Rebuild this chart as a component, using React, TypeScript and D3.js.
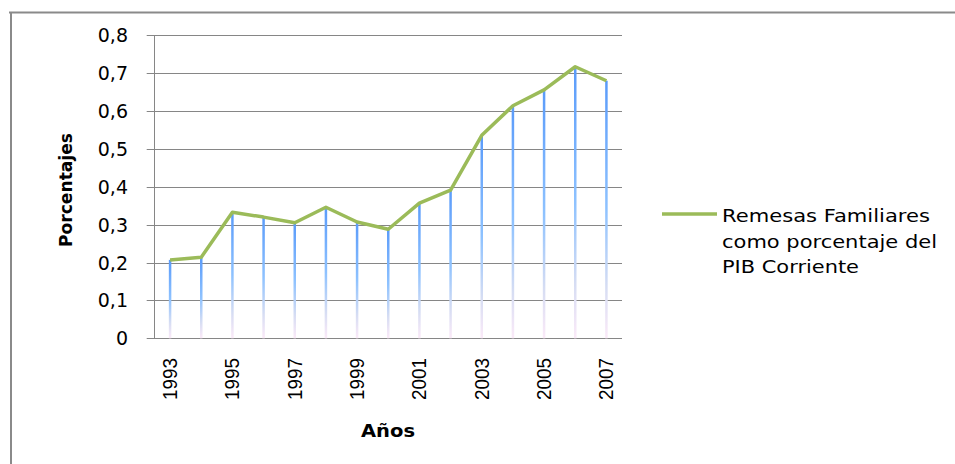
import React from "react";
import * as d3 from "d3";

const years = [1993, 1994, 1995, 1996, 1997, 1998, 1999, 2000, 2001, 2002, 2003, 2004, 2005, 2006, 2007];
const remesas = [0.207, 0.214, 0.333, 0.32, 0.305, 0.346, 0.307, 0.288, 0.357, 0.391, 0.536, 0.614, 0.656, 0.717, 0.68];
const yTicks = [0, 0.1, 0.2, 0.3, 0.4, 0.5, 0.6, 0.7, 0.8];
const xLabelYears = [1993, 1995, 1997, 1999, 2001, 2003, 2005, 2007];
const legendLines = ["Remesas Familiares", "como porcentaje del", "PIB Corriente"];
const legendLengths = [208, 215, 137];

const W = 955;
const H = 464;
const left = 154.5;
const right = 622;
const top = 35.3;
const bottom = 338.3;

export default function App() {
  const x = d3.scaleBand<number>().domain(years).range([left, right]).padding(0);
  const y = d3.scaleLinear().domain([0, 0.8]).range([bottom, top]);
  const cx = (yr: number) => (x(yr) as number) + x.bandwidth() / 2;
  const line = d3
    .line<number>()
    .x((_, i) => cx(years[i]))
    .y((d) => y(d));
  const fmt = (v: number) => (v === 0 ? "0" : d3.format(".1f")(v).replace(".", ","));

  return (
    <svg
      width={W}
      height={H}
      style={{ position: "absolute", left: 0, top: 0, background: "#fff" }}
      xmlns="http://www.w3.org/2000/svg"
    >
      <defs>
        <linearGradient id="drop" x1="0" y1="0" x2="0" y2="1">
          <stop offset="0" stopColor="#5A9BFA" />
          <stop offset="0.5" stopColor="#8EC2FF" />
          <stop offset="0.8" stopColor="#D6DDF3" />
          <stop offset="1" stopColor="#FBEAF8" />
        </linearGradient>
      </defs>
      <rect x={0} y={0} width={W} height={H} fill="#fff" />
      {/* frame */}
      <line x1={9} y1={12.5} x2={955} y2={12.5} stroke="#8A8A8A" strokeWidth={2} />
      <line x1={11} y1={12} x2={11} y2={464} stroke="#8A8A8A" strokeWidth={2} />

      {/* grid */}
      {yTicks.map((t) => (
        <line
          key={"g" + t}
          x1={146.7}
          x2={right}
          y1={Math.round(y(t)) + 0.5}
          y2={Math.round(y(t)) + 0.5}
          stroke="#868686"
          strokeWidth={1}
        />
      ))}
      <line x1={left} x2={left} y1={top} y2={bottom} stroke="#868686" strokeWidth={1} />

      {/* y labels */}
      {yTicks.map((t) => (
        <text
          key={"yl" + t}
          x={128}
          y={y(t) + 7}
          textAnchor="end"
          fontFamily="DejaVu Sans"
          fontSize={19}
          fill="#000"
        >
          {fmt(t)}
        </text>
      ))}

      {/* drop lines */}
      {years.map((yr, i) => (
        <rect
          key={"d" + yr}
          x={cx(yr) - 1.25}
          y={y(remesas[i])}
          width={2.5}
          height={bottom - y(remesas[i])}
          fill="url(#drop)"
        />
      ))}

      {/* series line */}
      <path
        d={line(remesas) as string}
        fill="none"
        stroke="#9BBB59"
        strokeWidth={3.5}
        strokeLinejoin="round"
      />

      {/* x labels */}
      {xLabelYears.map((yr) => (
        <text
          key={"xl" + yr}
          transform={`translate(${cx(yr) + 7},358) rotate(-90)`}
          textAnchor="end"
          fontFamily="Liberation Sans"
          fontSize={20}
          textLength={42}
          lengthAdjust="spacingAndGlyphs"
          fill="#000"
        >
          {yr}
        </text>
      ))}

      {/* axis titles */}
      <text
        x={388}
        y={437}
        textAnchor="middle"
        fontFamily="DejaVu Sans"
        fontWeight="bold"
        fontSize={17}
        textLength={54}
        lengthAdjust="spacingAndGlyphs"
        fill="#000"
      >
        Años
      </text>
      <text
        transform="translate(72,190) rotate(-90)"
        textAnchor="middle"
        fontFamily="DejaVu Sans"
        fontWeight="bold"
        fontSize={17}
        textLength={114}
        lengthAdjust="spacingAndGlyphs"
        fill="#000"
      >
        Porcentajes
      </text>

      {/* legend */}
      <line x1={662} x2={717} y1={214} y2={214} stroke="#9BBB59" strokeWidth={3.5} />
      {legendLines.map((s, i) => (
        <text
          key={"lg" + i}
          x={722}
          y={222 + i * 25.5}
          fontFamily="DejaVu Sans"
          fontSize={17}
          textLength={legendLengths[i]}
          lengthAdjust="spacingAndGlyphs"
          fill="#000"
        >
          {s}
        </text>
      ))}
    </svg>
  );
}
